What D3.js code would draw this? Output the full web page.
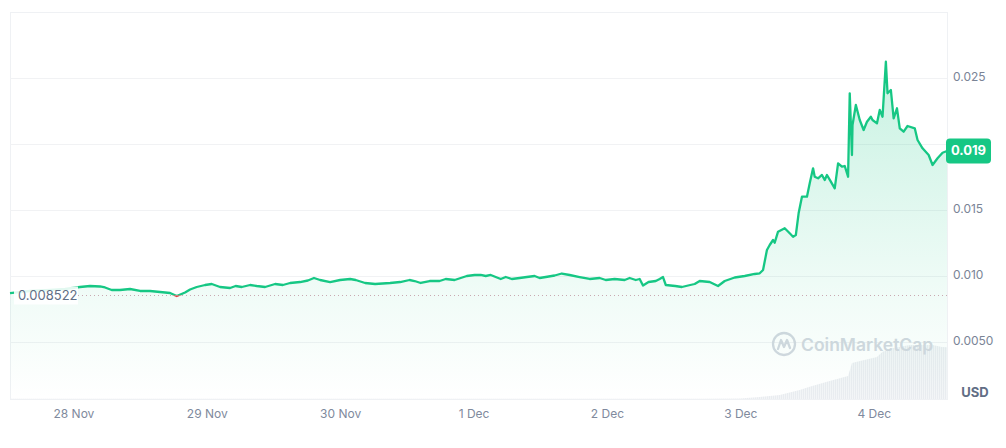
<!DOCTYPE html>
<html><head><meta charset="utf-8">
<script src="https://cdn.jsdelivr.net/npm/d3@7"></script>
<style>
html,body{margin:0;padding:0;background:#fff;}
svg{display:block;font-family:Inter,"Noto Sans",sans-serif;}
</style></head>
<body><svg id="c" width="1006" height="448"></svg>
<script>
// ---- data (hours since 28 Nov 00:00) ----
const priceHours = [-11.5,-7.9,-4.3,-1.6,1.1,2.9,4.7,5.6,6.8,8.3,10.1,11.9,13.7,15.5,17.3,18.5,20.0,20.9,22.1,23.6,24.8,26.3,28.1,29.1,30.2,31.7,32.9,34.4,36.2,37.6,38.9,40.7,42.1,43.2,44.3,46.1,47.9,49.7,50.7,52.4,54.2,56.9,58.7,60.4,61.3,62.4,64.0,65.8,66.9,68.5,69.6,70.7,72.1,73.2,74.1,75.0,75.9,76.8,77.7,78.8,80.2,81.5,82.9,83.8,84.9,86.5,87.8,89.2,91.0,92.8,94.6,95.7,97.3,99.1,100.0,101.1,101.8,102.4,103.4,104.7,105.4,106.0,106.5,108.2,109.4,110.9,111.7,112.6,114.4,115.9,117.1,118.9,120.7,122.5,123.4,124.0,124.7,125.2,125.8,126.1,126.7,127.9,128.8,129.4,129.9,130.4,131.0,131.9,132.4,133.0,133.3,133.9,134.6,135.1,135.5,136.2,136.9,137.5,138.2,138.7,139.3,139.6,140.0,140.1,140.7,141.4,142.1,142.7,143.4,143.7,144.5,145.0,145.5,146.1,146.4,147.0,147.5,148.1,148.6,149.3,150.0,151.3,151.8,152.7,153.8,154.5,155.4,156.3,157.1];
const prices = [0.00871,0.008864,0.008939,0.009015,0.009167,0.009242,0.009205,0.009129,0.008939,0.008939,0.009015,0.008864,0.008864,0.008788,0.008712,0.008485,0.00875,0.008977,0.009167,0.009318,0.009394,0.009167,0.009091,0.009242,0.009167,0.009318,0.009242,0.009167,0.009394,0.009318,0.00947,0.009545,0.009659,0.009848,0.009697,0.009545,0.009697,0.009773,0.009697,0.00947,0.009394,0.00947,0.009545,0.009697,0.009621,0.00947,0.009621,0.009621,0.009773,0.009697,0.009848,0.010,0.010076,0.010076,0.010,0.010076,0.009924,0.009773,0.009924,0.009773,0.009848,0.009924,0.010,0.009848,0.009924,0.010038,0.010189,0.010076,0.009924,0.009773,0.009848,0.009697,0.009773,0.009697,0.009848,0.009697,0.009773,0.00928,0.009545,0.009621,0.009773,0.009924,0.009318,0.009242,0.009167,0.009318,0.009394,0.009621,0.009545,0.009242,0.009621,0.009886,0.010,0.010152,0.010205,0.010455,0.01197,0.012348,0.012727,0.012523,0.013356,0.013614,0.013235,0.012977,0.013106,0.01475,0.016008,0.016008,0.017023,0.018159,0.017523,0.017402,0.017652,0.017273,0.017652,0.017144,0.016644,0.018538,0.01828,0.018333,0.017523,0.023841,0.019167,0.021439,0.022955,0.021818,0.02106,0.021689,0.022068,0.021818,0.021568,0.022576,0.022068,0.026235,0.023841,0.024091,0.021947,0.022705,0.02119,0.020932,0.021364,0.02119,0.020303,0.019674,0.019167,0.018409,0.018917,0.019341,0.01947];
const volumeHours = [-11.5,40,90,112.6,119.8,123.4,127.0,130.6,132.4,135.5,139.3,140.0,140.9,144.5,145.5,147.3,150.4,154.5,156.2,157.1];
const volumes = [0.3,0.3,0.4,0.5,1,3.7,7.4,16.7,22.8,32,42.6,66.7,69,78,87.6,93.9,100,100,96.3,96];
const refPrice = 0.008522;
const currentLabel = "0.019";
const yTickValues = [0.005,0.010,0.015,0.020,0.025];
const yTickLabels = ["0.0050","0.010","0.015","","0.025"]; // 0.020 is hidden behind the price badge
const xTickHours = [0,24,48,72,96,120,144];
const xTickLabels = ["28 Nov","29 Nov","30 Nov","1 Dec","2 Dec","3 Dec","4 Dec"];

// ---- layout ----
const L=10,R=947,T=12,B=399;
const svg=d3.select("#c");
const x=d3.scaleLinear().domain([-11.5,157.1]).range([L,R]);
const y=d3.scaleLinear().domain([0.005,0.025]).range([342,78]);
const yv=d3.scaleLinear().domain([0,100]).range([B,B-54]);

const defs=svg.append("defs");
const g=defs.append("linearGradient").attr("id","fillg").attr("gradientUnits","userSpaceOnUse")
  .attr("x1",0).attr("y1",60).attr("x2",0).attr("y2",B);
g.append("stop").attr("offset",0).attr("stop-color","#16c784").attr("stop-opacity",0.24);
g.append("stop").attr("offset",0.7).attr("stop-color","#16c784").attr("stop-opacity",0.06);
g.append("stop").attr("offset",1).attr("stop-color","#16c784").attr("stop-opacity",0.0);
const pat=defs.append("pattern").attr("id","vstripe").attr("patternUnits","userSpaceOnUse").attr("width",2).attr("height",10);
pat.append("rect").attr("width",2).attr("height",10).attr("fill","#e9ecf0");
pat.append("rect").attr("width",1).attr("height",10).attr("fill","#f3f5f7");
const refY=y(refPrice);
defs.append("clipPath").attr("id","above").append("rect").attr("x",0).attr("y",0).attr("width",1006).attr("height",refY);
defs.append("clipPath").attr("id","below").append("rect").attr("x",0).attr("y",refY).attr("width",1006).attr("height",448-refY);

// frame
svg.append("rect").attr("x",L+0.5).attr("y",T+0.5).attr("width",R-L).attr("height",B-T)
  .attr("fill","none").attr("stroke","#eff1f4");

// grid
svg.append("g").selectAll("line").data(yTickValues).join("line")
  .attr("x1",L).attr("x2",R).attr("y1",d=>Math.round(y(d))+0.5).attr("y2",d=>Math.round(y(d))+0.5)
  .attr("stroke","#f1f2f4");

// volume
const data=priceHours.map((h,i)=>({h,p:prices[i]}));
const vdata=volumeHours.map((h,i)=>({h,v:volumes[i]}));
svg.append("path").datum(vdata)
  .attr("d",d3.area().x(d=>x(d.h)).y0(B).y1(d=>yv(d.v)))
  .attr("fill","url(#vstripe)");

// watermark
const wm=svg.append("g").attr("transform","translate(784,344)").attr("fill","none").attr("stroke","#d3d8e0");
wm.append("circle").attr("r",11).attr("stroke-width",2.3);
wm.append("path").attr("d","M-6,5 L-3,-4 L0,3 L3,-4 L6,4").attr("stroke-width",2.3).attr("stroke-linejoin","round").attr("stroke-linecap","round");
svg.append("text").attr("x",801).attr("y",351).attr("font-size",17.5).attr("font-weight",600)
  .attr("fill","#d3d8e0").text("CoinMarketCap");

// area
svg.append("path").datum(data)
  .attr("d",d3.area().x(d=>x(d.h)).y0(B).y1(d=>y(d.p)))
  .attr("fill","url(#fillg)");

// ref dotted line
svg.append("line").attr("x1",78).attr("x2",R).attr("y1",refY).attr("y2",refY)
  .attr("stroke","#c9a9b2").attr("stroke-dasharray","1,3").attr("stroke-width",1);

// price line
const line=d3.line().x(d=>x(d.h)).y(d=>y(d.p));
svg.append("path").datum(data).attr("d",line).attr("fill","none").attr("stroke","#16c784")
  .attr("stroke-width",2.3).attr("stroke-linejoin","round").attr("clip-path","url(#above)");
svg.append("path").datum(data).attr("d",line).attr("fill","none").attr("stroke","#ea3943")
  .attr("stroke-width",2.3).attr("stroke-linejoin","round").attr("clip-path","url(#below)");

// ref label
svg.append("rect").attr("x",14).attr("y",refY-9).attr("width",64).attr("height",18).attr("fill","#fff").attr("opacity",0.88);
svg.append("text").attr("x",18).attr("y",refY+0.5).attr("dominant-baseline","middle")
  .attr("font-size",13).attr("fill","#616e85").text(refPrice.toString());

// y labels
svg.append("g").selectAll("text").data(yTickValues.filter((d,i)=>yTickLabels[i])).join("text")
  .attr("x",953).attr("y",d=>y(d)).attr("dominant-baseline","middle")
  .attr("font-size",12).attr("fill","#7a8496").text(d=>yTickLabels[yTickValues.indexOf(d)]);

// current badge
const lastY=y(prices[prices.length-1]);
svg.append("rect").attr("x",946).attr("y",lastY-12.5).attr("width",45).attr("height",25).attr("rx",4).attr("fill","#16c784");
svg.append("text").attr("x",968.5).attr("y",lastY+0.5).attr("text-anchor","middle").attr("dominant-baseline","middle")
  .attr("font-size",13).attr("font-weight",700).attr("fill","#fff").text(currentLabel);

// x labels
svg.append("g").selectAll("text").data(xTickHours).join("text")
  .attr("x",d=>x(d)).attr("y",415).attr("text-anchor","middle").attr("dominant-baseline","middle")
  .attr("font-size",12).attr("fill","#808a9d").text((d,i)=>xTickLabels[i]);

svg.append("text").attr("x",975).attr("y",393).attr("text-anchor","middle").attr("dominant-baseline","middle")
  .attr("font-size",13).attr("font-weight",700).attr("fill","#616e85").text("USD");
</script></body></html>
